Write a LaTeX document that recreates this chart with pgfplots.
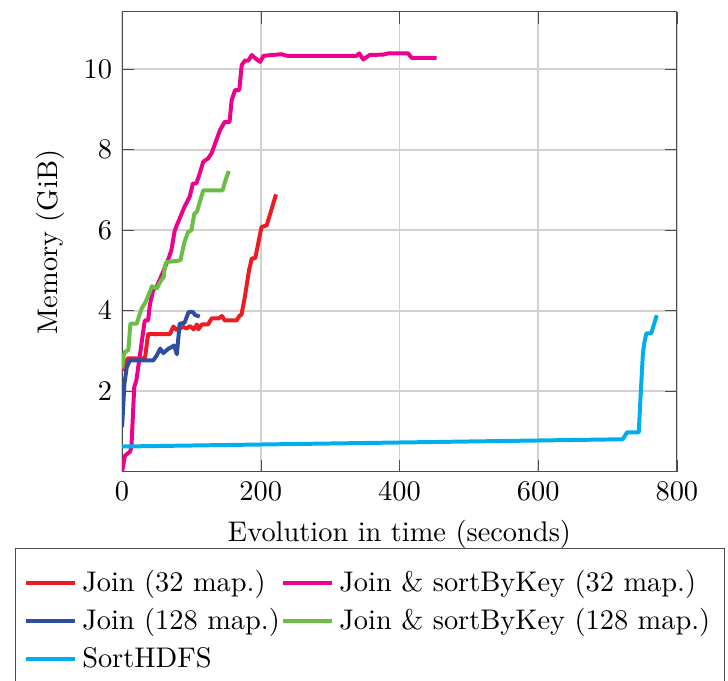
\documentclass[border=0pt]{standalone}
\usepackage{pgfplots}
\pgfplotsset{compat=1.18}
\definecolor{cred}{HTML}{ED1C24}
\definecolor{cmag}{HTML}{EC008C}
\definecolor{cblue}{HTML}{2E4FA0}
\definecolor{cgreen}{HTML}{6ABD45}
\definecolor{ccyan}{HTML}{00AEEF}
\begin{document}
\begin{tikzpicture}
\begin{axis}[
  name=ax,
  scale only axis,
  width=195.4pt, height=162pt,
  xmin=0, xmax=800, ymin=0, ymax=11.42,
  xtick={0,200,400,600,800},
  ytick={2,4,6,8,10},
  grid=major,
  major grid style={draw=black!18, line width=0.6pt},
  axis line style={draw=black!70},
  tick style={draw=black!70},
  xlabel={Evolution in time (seconds)},
  ylabel={Memory (GiB)},
  every axis plot/.append style={line width=1.4pt, line join=round},
  legend columns=2,
  legend cell align=left,
  legend style={at={(0,0)}, anchor=north west, xshift=-37.7pt, yshift=-26.8pt,
    draw=black!70, inner ysep=5.5pt, row sep=0.6pt,
    /tikz/every even column/.append style={column sep=-1.5pt}},
]
\addplot[cred] coordinates {(2,2.5)(8,2.82)(33,2.82)(37.5,3.42)(69,3.42)(74,3.61)(79,3.52)(81,3.54)(88,3.60)(93,3.56)(98,3.62)(103,3.54)(108,3.66)(110,3.54)(115,3.66)(124,3.66)(129,3.81)(139,3.81)(144,3.87)(148,3.76)(165,3.76)(170,3.89)(172,3.89)(177,4.34)(183,5.0)(187,5.30)(192,5.30)(201,6.08)(208.5,6.12)(222,6.89)};
\addlegendentry{Join (32 map.)}
\addplot[cmag] coordinates {(0,0.0)(4,0.40)(11.5,0.50)(13.5,0.62)(17.5,2.1)(20.6,2.27)(30,3.43)(32.7,3.76)(37.5,3.76)(40,4.14)(44.7,4.51)(49.5,4.59)(54,4.76)(66,5.25)(71,5.50)(76,6.0)(83,6.29)(90,6.58)(97.5,6.83)(102,7.16)(107,7.16)(112,7.41)(117,7.70)(124,7.78)(129,7.91)(136,8.24)(141,8.48)(148,8.69)(155,8.69)(158,9.23)(163,9.48)(169,9.48)(172.5,10.10)(177,10.21)(182,10.21)(187,10.35)(192,10.27)(199,10.18)(204,10.33)(230,10.37)(238,10.33)(338,10.33)(342,10.39)(347.7,10.24)(357,10.35)(376.5,10.36)(383.7,10.39)(412.5,10.39)(417.4,10.28)(453.5,10.28)};
\addlegendentry{Join \& sortByKey (32 map.)}
\addplot[cblue] coordinates {(0,1.11)(3.4,2.19)(6.7,2.60)(11.5,2.77)(45,2.77)(50,2.89)(55,3.06)(59.5,2.95)(67,3.06)(71.6,3.10)(75,3.14)(79,2.92)(83,3.68)(90,3.70)(96,3.97)(102,3.97)(105.6,3.89)(112,3.86)};
\addlegendentry{Join (128 map.)}
\addplot[cgreen] coordinates {(0,2.57)(2,2.85)(4,2.98)(9,3.02)(12,3.68)(21,3.68)(28,4.05)(34,4.22)(40,4.47)(43,4.61)(50,4.55)(55,4.72)(60,4.84)(62,5.13)(64,5.21)(84,5.25)(90,5.71)(95,5.95)(100,6.0)(104,6.40)(108,6.46)(117,6.99)(145,6.99)(149,7.24)(154,7.47)};
\addlegendentry{Join \& sortByKey (128 map.)}
\addplot[ccyan] coordinates {(0,0.63)(722,0.81)(728,0.98)(745,0.98)(748,2.0)(751,2.94)(753,3.2)(756,3.44)(763,3.44)(771,3.89)};
\addlegendentry{SortHDFS}
\end{axis}
\pgfresetboundingbox
\path[use as bounding box] ([xshift=-43pt,yshift=-73.6pt]ax.south west) rectangle ([xshift=18pt,yshift=4.2pt]ax.north east);
\end{tikzpicture}
\end{document}
